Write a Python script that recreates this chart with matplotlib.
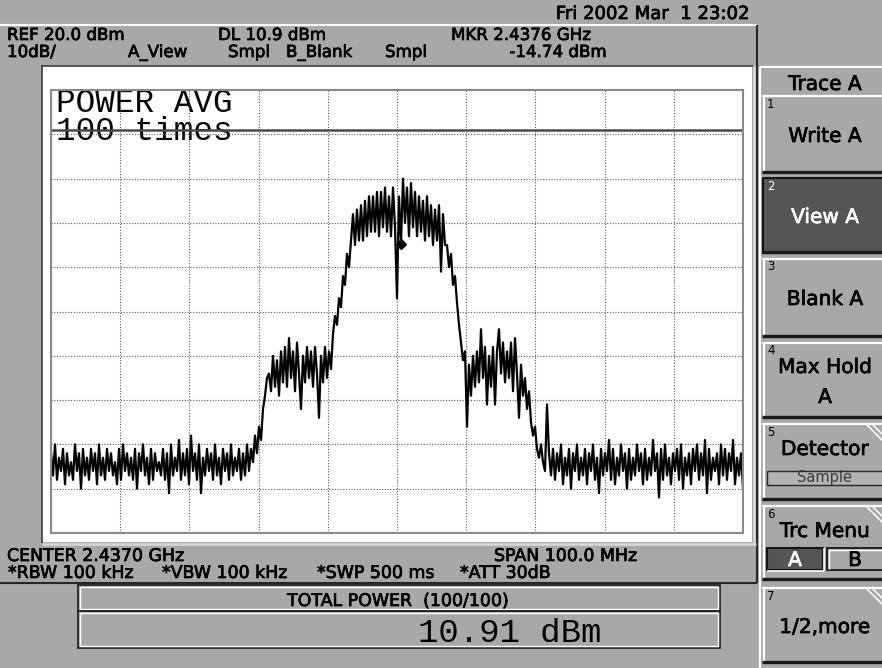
import matplotlib.pyplot as plt
import matplotlib.patheffects as pe
from matplotlib.patches import Rectangle
import numpy as np

# readings off the analyzer screen
center_ghz = 2.437
span_ghz = 0.1
ref_dbm = 20.0
db_per_div = 10
display_line_dbm = 10.9
marker_ghz = 2.4376
marker_dbm = -14.74
total_power_dbm = 10.91

# trace A in dBm, read about every 2 px across the graticule, left to right
floor_left = [
    -62, -67, -60, -68, -63, -66, -61, -69, -62, -67,
    -64, -68, -60, -66, -62, -70, -61, -67, -63, -68,
    -61, -66, -62, -69, -60, -67, -63, -68, -61, -66,
    -62, -67, -64, -69, -61, -68, -60, -66, -62, -67,
    -63, -68, -61, -70, -62, -66, -60, -67, -63, -69,
    -61, -68, -62, -66, -64, -67, -61, -68, -62, -71,
    -60, -67, -63, -66, -59, -68, -62, -67, -61, -69,
    -58, -66, -62, -68, -60, -71, -63, -67, -61, -66,
    -62, -68, -60, -67, -63, -69, -61, -66, -62, -68,
    -60, -67, -63, -66, -61, -68, -62, -67, -60, -66,
]
edge_left = [-61, -64, -58, -62, -56, -59, -52, -49, -45]
shoulder_left = [
    -44, -48, -40, -47, -41, -49, -39, -46, -38, -47,
    -36, -45, -39, -48, -37, -44, -52, -40, -46, -38,
    -45, -39, -47, -38, -44, -54, -40, -46, -38, -45,
    -39, -43, -35,
]
rise_main = [-31, -33, -27, -29, -22, -24, -17, -20, -14]
top_main = [
    -8, -15, -7, -14, -6, -14, -5, -13, -4, -12,
    -4, -12, -3, -13, -3, -11, -2, -12, -4, -13,
    -2, -11, -27, -4, -14.7, 0, -10, -2, -13, -1,
    -11, -3, -13, -4, -12, -5, -14, -4, -13, -6,
    -15, -7, -14, -6, -21, -8, -15,
]
fall_main = [-15, -20, -17, -24, -22, -28, -33, -37, -41, -39]
shoulder_right = [
    -56, -42, -49, -40, -47, -39, -46, -34, -45, -38,
    -51, -40, -47, -38, -51, -39, -34, -44, -37, -46,
    -39, -45, -37, -48, -36, -44, -54, -42, -49,
]
edge_right = [-45, -52, -48, -55, -58, -56, -61, -63, -60]
floor_right = [
    -64, -66, -51, -62,
    -67, -61, -68, -62, -66, -60, -69, -63, -67, -61, -70, -62, -66, -60, -68, -63, -67, -61, -69, -62,
    -66, -60, -68, -63, -71, -61, -67, -62, -66, -59, -68, -61, -69, -63, -67, -60, -66, -62, -70, -61,
    -68, -63, -67, -60, -66, -62, -69, -61, -68, -63, -67, -59, -66, -62, -72, -61, -68, -60, -67, -63,
    -69, -62, -66, -61, -68, -60, -70, -63, -67, -62, -69, -61, -66, -60, -68, -62, -67, -59, -71, -61,
    -68, -63, -66, -62, -69, -60, -67, -61, -68, -62, -66, -59, -69, -63, -67, -62, -70,
]
trace_dbm = (floor_left + edge_left + shoulder_left + rise_main + top_main
             + fall_main + shoulder_right + edge_right + floor_right)
freq_ghz = np.linspace(center_ghz - span_ghz / 2, center_ghz + span_ghz / 2, len(trace_dbm))

# screen texts
header_text = 'Fri 2002 Mar  1 23:02'
info_row1 = ['REF %.1f dBm' % ref_dbm, 'DL %.1f dBm' % display_line_dbm, 'MKR %.4f GHz' % marker_ghz]
info_row2 = ['%ddB/' % db_per_div, 'A_View', 'Smpl', 'B_Blank', 'Smpl', '%.2f dBm' % marker_dbm]
bottom_row1 = ['CENTER %.4f GHz' % center_ghz, 'SPAN %.1f MHz' % (span_ghz * 1000)]
bottom_row2 = ['*RBW 100 kHz', '*VBW 100 kHz', '*SWP 500 ms', '*ATT 30dB']
avg_lines = ['POWER AVG', '100 times']
power_title = 'TOTAL POWER  (100/100)'
power_value = '%.2f dBm' % total_power_dbm
menu_title = 'Trace A'
key_labels = ['Write A', 'View A', 'Blank A', 'Max Hold', 'Detector', 'Trc Menu', '1/2,more']

GREY = '#a8a8a8'
DARK = '#262626'
KEYDARK = '#555555'

fig = plt.figure(figsize=(8.82, 6.68), dpi=100, facecolor=GREY)
bg = fig.add_axes([0, 0, 1, 1])
bg.set_xlim(0, 882)
bg.set_ylim(668, 0)
bg.axis('off')


def hline(y, x0, x1, color, lw=1.0):
    bg.plot([x0, x1], [y, y], color=color, lw=lw, solid_capstyle='butt')


def vline(x, y0, y1, color, lw=1.0):
    bg.plot([x, x], [y0, y1], color=color, lw=lw, solid_capstyle='butt')


def bevel_box(x0, y0, x1, y1):
    bg.add_patch(Rectangle((x0, y0), x1 - x0, y1 - y0, fc='none', ec=DARK, lw=1.3))
    bg.add_patch(Rectangle((x0 + 2, y0 + 2), x1 - x0 - 4, y1 - y0 - 4, fc='none', ec='white', lw=1.0))


def heavy(color):
    return [pe.withStroke(linewidth=0.5, foreground=color)]


# upper panel and white screen
hline(25, 0, 757, 'white', 1.5)
vline(757, 25, 583, DARK, 1.5)
hline(583, 0, 757, DARK, 1.5)
bg.add_patch(Rectangle((42, 66), 710, 476, fc='white', ec='none'))
hline(65.5, 41, 753, '#3c3c3c', 1.2)
vline(41.5, 65, 543, '#3c3c3c', 1.2)
vline(754, 66, 545, '#d6d6d6', 2)
hline(544, 42, 756, '#d6d6d6', 2)

info = dict(family='DejaVu Sans', size=12.5, color='black', va='baseline',
            path_effects=heavy('black'))
small = dict(info, size=12)
bg.text(749, 19, header_text, ha='right', **dict(info, size=13))
for s, x in zip(info_row1, [7, 218, 451]):
    bg.text(x, 40, s, ha='left', **small)
for s, x, ha in zip(info_row2, [7, 128, 228, 286, 385, 606],
                    ['left'] * 5 + ['right']):
    bg.text(x, 57, s, ha=ha, **small)
for s, x in zip(bottom_row1, [7, 494]):
    bg.text(x, 561, s, ha='left', **info)
for s, x in zip(bottom_row2, [8, 162, 317, 460]):
    bg.text(x, 578, s, ha='left', **info)

mono = dict(family='Liberation Mono', color='black', va='baseline', ha='left')
bg.text(56, 112, avg_lines[0], size=23.5, **mono)
bg.text(56, 140, avg_lines[1], size=23.5, **mono)

# total power readout
bevel_box(78, 585, 720, 611)
bevel_box(78, 611, 720, 648)
bg.text(398, 606, power_title, ha='center', **info)
bg.text(418, 642, power_value, size=24.5, **mono)

# soft key menu
hline(67, 760, 882, 'white', 1.5)
vline(760, 67, 668, 'white', 1.5)
keyfont = dict(family='DejaVu Sans', size=14.5, ha='center', va='baseline')
bg.text(825, 90, menu_title, color='black', path_effects=heavy('black'), **keyfont)
key_tops = [95, 177, 258, 342, 423, 505, 587]
key_bottoms = [173, 253, 337, 418, 500, 580, 663]
label_base = [142, 223, 305, 373, 455, 537, 633]
for k, (top, bot) in enumerate(zip(key_tops, key_bottoms)):
    dark = (k == 1)
    ink = 'white' if dark else 'black'
    bg.add_patch(Rectangle((762, top), 125, bot - top, fc=KEYDARK if dark else GREY, ec='none'))
    if dark:
        bg.add_patch(Rectangle((763, top + 0.5), 125, bot - top - 1, fc='none', ec='#141414', lw=1.5))
    else:
        hline(top + 1, 762, 882, 'white', 1.6)
        vline(763.5, top, bot, 'white', 1.6)
    hline(bot - 1, 762, 882, '#1a1a1a', 2.4)
    bg.text(767, top + 9, str(k + 1), family='DejaVu Sans', size=8.5,
            color=ink, ha='left', va='center')
    bg.text(825, label_base[k], key_labels[k], color=ink, path_effects=heavy(ink), **keyfont)
    if k >= 4:
        bg.plot([866, 884], [top + 1, top + 19], color='white', lw=1.1)
        bg.plot([872, 884], [top + 1, top + 13], color='white', lw=1.1)

bg.text(825, 403, 'A', color='black', path_effects=heavy('black'), **keyfont)
# detector sub box
bg.add_patch(Rectangle((767, 471), 120, 14, fc='#b4b4b4', ec=DARK, lw=1.0))
bg.text(825, 482, 'Sample', family='DejaVu Sans', size=10.5, color='#3a3a3a', ha='center', va='baseline')
# trace selector A / B
bg.add_patch(Rectangle((767, 548), 56, 22, fc=KEYDARK, ec='#141414', lw=1.5))
hline(571, 767, 824, 'white', 1.2)
vline(824, 548, 571, 'white', 1.2)
bg.add_patch(Rectangle((827, 548), 60, 22, fc=GREY, ec='#141414', lw=1.3))
hline(550, 829, 882, 'white', 1.0)
vline(829, 550, 569, 'white', 1.0)
bg.text(795, 566, 'A', color='white', path_effects=heavy('white'), **keyfont)
bg.text(855, 566, 'B', color='black', path_effects=heavy('black'), **keyfont)

# graticule with trace
ax = fig.add_axes([51 / 882, 1 - 533 / 668, 692 / 882, 443 / 668])
ax.set_facecolor('none')
fmin = center_ghz - span_ghz / 2
fmax = center_ghz + span_ghz / 2
ax.set_xlim(fmin, fmax)
ax.set_ylim(ref_dbm - 10 * db_per_div, ref_dbm)
ax.set_xticks(np.linspace(fmin, fmax, 11))
ax.set_yticks(np.arange(ref_dbm - 10 * db_per_div, ref_dbm + 1, db_per_div))
ax.tick_params(length=0, labelbottom=False, labelleft=False)
ax.grid(color='#5a5a5a', linestyle=(0, (1, 1.5)), lw=0.8)
for sp in ax.spines.values():
    sp.set_color('#8a8a8a')
    sp.set_linewidth(1.5)
ax.axhline(display_line_dbm, color='#4a4a4a', lw=1.8)
ax.plot(freq_ghz, trace_dbm, color='black', lw=1.6)
ax.plot(marker_ghz, marker_dbm, marker='D', ms=5.5, color='black')

fig.savefig('out.png', dpi=100, facecolor=GREY)
